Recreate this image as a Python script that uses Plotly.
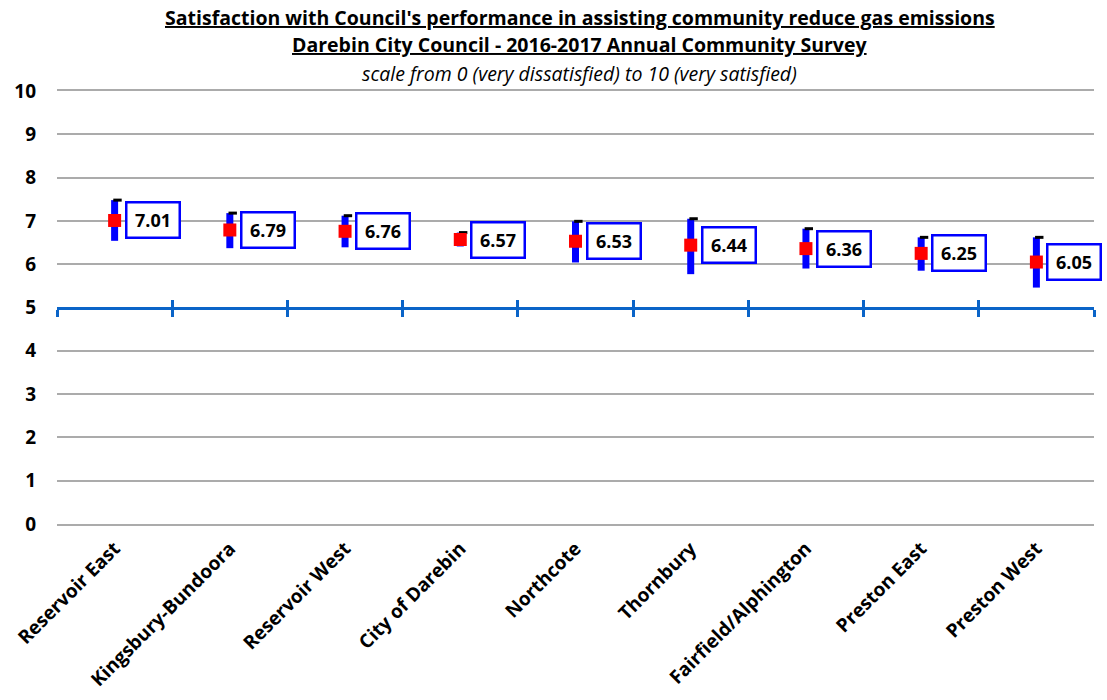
import plotly.graph_objects as go

# Survey results: mean satisfaction score with low/high range per area
areas = ["Reservoir East", "Kingsbury-Bundoora", "Reservoir West", "City of Darebin",
         "Northcote", "Thornbury", "Fairfield/Alphington", "Preston East", "Preston West"]
means = [7.01, 6.79, 6.76, 6.57, 6.53, 6.44, 6.36, 6.25, 6.05]
lows = [6.54, 6.37, 6.39, 6.41, 6.04, 5.77, 5.90, 5.85, 5.46]
highs = [7.48, 7.18, 7.12, 6.73, 6.99, 7.05, 6.82, 6.62, 6.62]
y_ticks = list(range(0, 11))

FONT = "'Open Sans', Lato, sans-serif"
BLUE_AXIS = "#0A64C8"
BAR_BLUE = "#0000FF"
GRID = "#ABABAB"

xs = list(range(len(areas)))
plus = [h - m for h, m in zip(highs, means)]
minus = [m - l for m, l in zip(means, lows)]

fig = go.Figure()

# high-low range bars
fig.add_trace(go.Scatter(
    x=xs, y=means, mode="markers",
    marker=dict(size=1, color="rgba(0,0,0,0)"),
    error_y=dict(type="data", array=plus, arrayminus=minus, symmetric=False,
                 color=BAR_BLUE, thickness=7, width=0),
    hoverinfo="skip", showlegend=False,
))

# small black cap on the high end
fig.add_trace(go.Scatter(
    x=[x + 0.025 for x in xs], y=highs, mode="markers",
    marker=dict(symbol="line-ew", size=6, line=dict(width=3, color="black")),
    hoverinfo="skip", showlegend=False,
))

# mean markers
fig.add_trace(go.Scatter(
    x=xs, y=means, mode="markers",
    marker=dict(symbol="square", size=13, color="#FF0000"),
    showlegend=False,
))

# empty traces so the crossing axis (drawn at the scale midpoint) is rendered
for ax in ("x2", "x3"):
    fig.add_trace(go.Scatter(x=[None], y=[None], xaxis=ax, yaxis="y",
                             mode="markers", hoverinfo="skip", showlegend=False))

# boxed value labels
annotations = []
for x, m in zip(xs, means):
    annotations.append(dict(
        x=x, y=m, xref="x", yref="y", text=f"<b>{m:.2f}</b>", showarrow=False,
        xanchor="left", yanchor="middle", xshift=10,
        font=dict(family=FONT, size=18, color="black"),
        bgcolor="white", bordercolor=BAR_BLUE, borderwidth=2.5, borderpad=3,
        width=45, height=27,
    ))

titles = [
    ("<u><b>Satisfaction with Council's performance in assisting community reduce gas emissions</b></u>", 74),
    ("<u><b>Darebin City Council - 2016-2017 Annual Community Survey</b></u>", 47),
    ("<i>scale from 0 (very dissatisfied) to 10 (very satisfied)</i>", 18),
]
for text, shift in titles:
    annotations.append(dict(
        x=0.5, y=1, xref="paper", yref="paper", text=text, showarrow=False,
        xanchor="center", yanchor="middle", yshift=shift, xshift=4,
        font=dict(family=FONT, size=19.5, color="black"),
    ))

boundaries = [x - 0.5 for x in xs] + [xs[-1] + 0.5]
axis_at_five = dict(
    overlaying="x", anchor="free", position=0.5, range=[-0.5, len(areas) - 0.5],
    showline=True, linecolor=BLUE_AXIS, linewidth=3,
    tickmode="array", tickvals=boundaries, ticklen=7, tickwidth=3,
    tickcolor=BLUE_AXIS, showticklabels=False, showgrid=False, zeroline=False,
    automargin=False,
)

fig.update_layout(
    width=1107, height=700,
    margin=dict(l=57, r=13, t=91, b=176),
    paper_bgcolor="white", plot_bgcolor="white",
    font=dict(family=FONT, color="black"),
    annotations=annotations,
    xaxis=dict(
        range=[-0.5, len(areas) - 0.5], tickmode="array", tickvals=xs,
        ticktext=[f"<b>{a}</b>" for a in areas], tickangle=-45,
        tickfont=dict(family=FONT, size=19, color="black"),
        showgrid=False, zeroline=False, ticks="",
        showline=True, mirror=True, linecolor=GRID, linewidth=2,
        ticklabelstandoff=4, automargin=False,
    ),
    xaxis2=dict(axis_at_five, ticks="outside"),
    xaxis3=dict(axis_at_five, ticks="inside"),
    yaxis=dict(
        range=[0, 10], tickmode="array", tickvals=y_ticks,
        ticktext=[f"<b>{v}</b>" for v in y_ticks],
        tickfont=dict(family=FONT, size=19, color="black"),
        showgrid=True, gridcolor=GRID, gridwidth=2,
        zeroline=False, showline=False, ticks="", ticklabelstandoff=20,
        automargin=False,
    ),
)

fig.write_html("out.html")
